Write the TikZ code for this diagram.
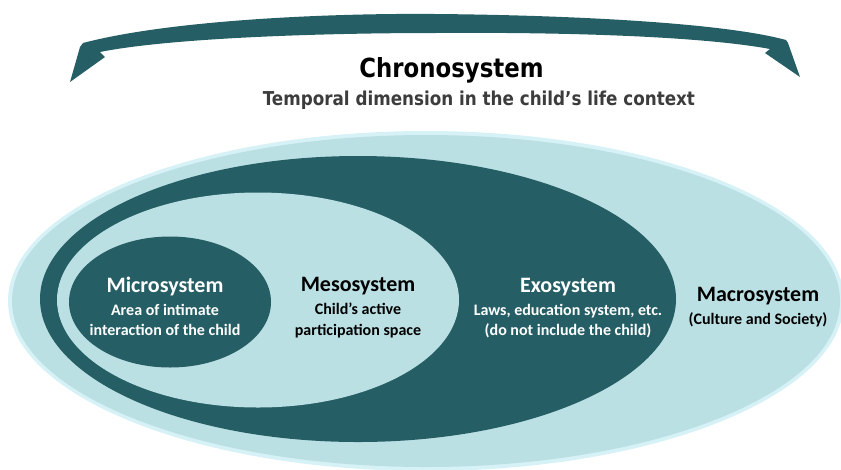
\documentclass[tikz,border=0pt]{standalone}
\usepackage{fontspec}
\usepackage{graphicx}
\setmainfont{Carlito}
\newfontfamily\chronofont{DejaVu Sans Condensed}
\usetikzlibrary{shapes.geometric}
\definecolor{dark}{RGB}{37,94,101}
\definecolor{light}{RGB}{187,224,228}
\definecolor{halo}{RGB}{214,242,246}
\definecolor{subgray}{RGB}{60,60,60}
\tikzset{
  ring/.style={ellipse, inner sep=0pt, outer sep=0pt, draw=none},
  ttl/.style={anchor=base, font=\fontsize{16.5pt}{19pt}\selectfont\bfseries, inner sep=0pt},
  sub/.style={anchor=base, font=\fontsize{12pt}{15pt}\selectfont\bfseries, inner sep=0pt},
}
\begin{document}
\begin{tikzpicture}[x=0.75pt,y=-0.75pt]
\useasboundingbox (0,0) rectangle (841,469);
% arrow
\fill[dark] (83,43) .. controls (170,20) and (330,13) .. (435,14)
  .. controls (560,15) and (720,22) .. (786,40) -- (788,43) -- (800,77)
  -- (765,53) -- (770,49) .. controls (700,36) and (560,32) .. (435,33)
  .. controls (320,33) and (170,38) .. (100,52) -- (105,57) -- (70,82)
  -- (80,47) -- cycle;
\node[anchor=base, inner sep=0pt] (chrono) at (451.5,77)
  {\resizebox{138pt}{15pt}{\chronofont\bfseries Chronosystem}};
\node[anchor=base, inner sep=0pt, text=subgray] (chronosub) at (479,105)
  {\resizebox{324pt}{10.9pt}{\chronofont\bfseries Temporal dimension in the child’s life context}};
% ellipses
\node[ring, fill=halo, minimum width=836*0.75pt, minimum height=340*0.75pt] (halo) at (426,301) {};
\node[ring, fill=light, minimum width=828*0.75pt, minimum height=332*0.75pt] (macro) at (426,301) {};
\node[ring, fill=dark, minimum width=636*0.75pt, minimum height=286*0.75pt] (exo) at (358,299) {};
\node[ring, fill=light, minimum width=402*0.75pt, minimum height=215*0.75pt] (meso) at (258,300) {};
\node[ring, fill=dark, minimum width=202*0.75pt, minimum height=131*0.75pt] (micro) at (170,302) {};
% texts
\node[ttl, text=white] (microT) at (165,292) {Microsystem};
\node[sub, text=white] (microA) at (165,315) {Area of intimate};
\node[sub, text=white] (microB) at (165,335) {interaction of the child};
\node[ttl, text=black] (mesoT) at (358,291) {Mesosystem};
\node[sub, text=black] (mesoA) at (358,314) {Child’s active};
\node[sub, text=black] (mesoB) at (358,335) {participation space};
\node[ttl, text=white] (exoT) at (568,292) {Exosystem};
\node[sub, text=white] (exoA) at (568,315) {Laws, education system, etc.};
\node[sub, text=white] (exoB) at (568,335) {(do not include the child)};
\node[ttl, text=black] (macroT) at (758,301) {Macrosystem};
\node[sub, text=black] (macroA) at (758,324) {(Culture and Society)};
\end{tikzpicture}
\end{document}
